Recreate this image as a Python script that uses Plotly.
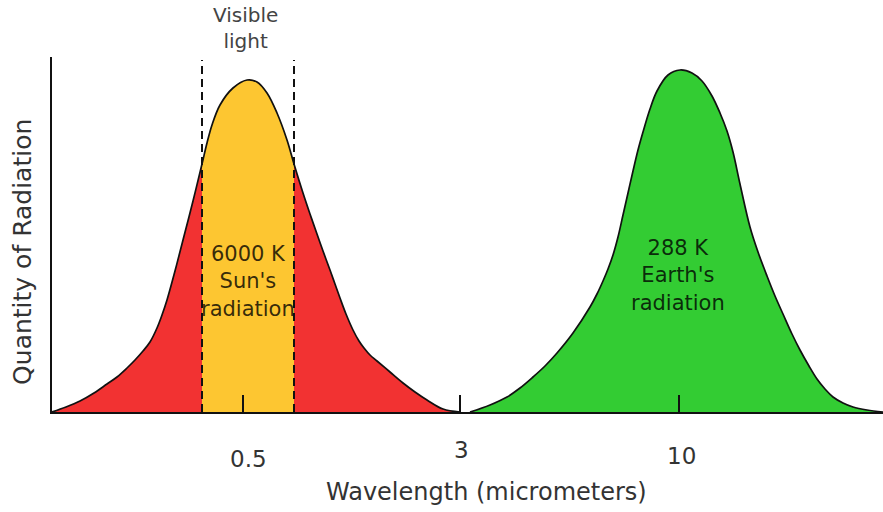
import plotly.graph_objects as go

# Position entlang der Achse (Pixel-Skala des Originals) und Strahlungsmenge
sun_pos = [0, 14, 28, 42, 55, 65, 75, 83, 91, 98, 105, 110, 115, 123, 131, 141, 150,
           155, 160, 168, 181, 195, 205, 215, 225, 235, 242, 251, 258, 265, 271, 278,
           283, 288, 294, 301, 307, 312, 318, 325, 338, 351, 363, 375, 391, 408]
sun_qty = [0, 5, 11, 19, 28, 35, 44, 52, 61, 70, 84, 97, 112, 141, 172, 211, 248,
           269, 287, 307, 324, 332, 330, 319, 299, 272, 248, 219, 198, 178, 161, 142,
           128, 114, 98, 82, 71, 64, 57, 51, 40, 29, 20, 12, 3, 0]

earth_pos = [418, 438, 455, 468, 481, 493, 505, 521, 538, 545, 551, 556, 561, 566,
             571, 576, 581, 586, 591, 598, 605, 616, 628, 640, 650, 660, 668, 675,
             681, 688, 698, 706, 715, 723, 731, 740, 748, 757, 765, 773, 781, 791,
             801, 815, 831]
earth_qty = [0, 7, 15, 24, 35, 46, 59, 79, 105, 118, 131, 143, 157, 175,
             197, 219, 241, 262, 280, 303, 321, 337, 342, 339, 331, 316, 299, 281,
             260, 228, 185, 160, 136, 116, 98, 78, 62, 46, 33, 23, 15, 9,
             5, 2, 0]

visible_band = [150, 242]  # Grenzen des sichtbaren Lichts

tick_pos = [191, 408, 627]
tick_labels = ["0.5", "3", "10"]

FONT = "DejaVu Sans"

fig = go.Figure()

# Sonnenstrahlung (rot)
fig.add_trace(go.Scatter(x=sun_pos, y=sun_qty, mode="lines", fill="tozeroy",
                         fillcolor="#F23232", line=dict(width=0, shape="spline"),
                         hoverinfo="skip"))

# sichtbarer Anteil (gelb)
vis = [(p, q) for p, q in zip(sun_pos, sun_qty) if visible_band[0] <= p <= visible_band[1]]
fig.add_trace(go.Scatter(x=[v[0] for v in vis], y=[v[1] for v in vis], mode="lines",
                         fill="tozeroy", fillcolor="#FDC631",
                         line=dict(width=0, shape="spline"), hoverinfo="skip"))

# Erdstrahlung (grün)
fig.add_trace(go.Scatter(x=earth_pos, y=earth_qty, mode="lines", fill="tozeroy",
                         fillcolor="#33CC33", line=dict(width=0, shape="spline"),
                         hoverinfo="skip"))

# Umrisse
for xs, ys in [(sun_pos, sun_qty), (earth_pos, earth_qty)]:
    fig.add_trace(go.Scatter(x=xs, y=ys, mode="lines",
                             line=dict(color="#111", width=1.7, shape="spline"),
                             hoverinfo="skip"))

# gestrichelte Linien für sichtbares Licht
for b in visible_band:
    fig.add_shape(type="line", x0=b, x1=b, y0=0, y1=352, xref="x", yref="y",
                  line=dict(color="#111", width=2, dash="8px,5px"), layer="above")

# Achsenbeschriftungen der Ticks
tick_shift = [-47, -38, -44]
tick_xoff = [5, 1, 2]
for p, lab, s, o in zip(tick_pos, tick_labels, tick_shift, tick_xoff):
    fig.add_annotation(x=p, y=0, xref="x", yref="paper", text=lab, showarrow=False,
                       yanchor="middle", yshift=s, xshift=o,
                       font=dict(family=FONT, size=23, color="#333"))

# Texte
fig.add_annotation(x=196, y=131, xref="x", yref="y", text="6000 K<br>Sun's<br>radiation",
                   showarrow=False, font=dict(family=FONT, size=21, color="rgba(0,0,0,0.8)"))
fig.add_annotation(x=626, y=137, xref="x", yref="y", text="288 K<br>Earth's<br>radiation",
                   showarrow=False, font=dict(family=FONT, size=21, color="rgba(0,0,0,0.8)"))
fig.add_annotation(x=193, y=1, xref="x", yref="paper", text="Visible<br>light",
                   showarrow=False, yanchor="middle", yshift=29,
                   font=dict(family=FONT, size=20, color="#444"))
fig.add_annotation(x=0.523, y=0, xref="paper", yref="paper",
                   text="Wavelength (micrometers)", showarrow=False,
                   yanchor="middle", yshift=-80,
                   font=dict(family=FONT, size=24, color="#333"))
fig.add_annotation(x=0, y=0.451, xref="paper", yref="paper",
                   text="Quantity of Radiation", showarrow=False, textangle=-90,
                   xanchor="center", xshift=-29,
                   font=dict(family=FONT, size=25, color="#333"))

fig.update_xaxes(range=[0, 831], showline=True, linecolor="#111", linewidth=2,
                 ticks="inside", ticklen=17, tickwidth=1.5, tickcolor="#111",
                 tickvals=tick_pos, showticklabels=False, showgrid=False,
                 zeroline=False, fixedrange=True)
fig.update_yaxes(range=[0, 355], showline=True, linecolor="#111", linewidth=2,
                 showticklabels=False, ticks="", showgrid=False, zeroline=False,
                 fixedrange=True)

fig.update_layout(width=883, height=512, showlegend=False,
                  plot_bgcolor="white", paper_bgcolor="white",
                  margin=dict(l=52, r=0, t=57, b=100, autoexpand=False))

# Seitenrand des Browsers entfernen, damit die Grafik bei (0,0) beginnt
fig.write_html("out.html", config={"displayModeBar": False},
               post_script="document.body.style.margin='0';")
